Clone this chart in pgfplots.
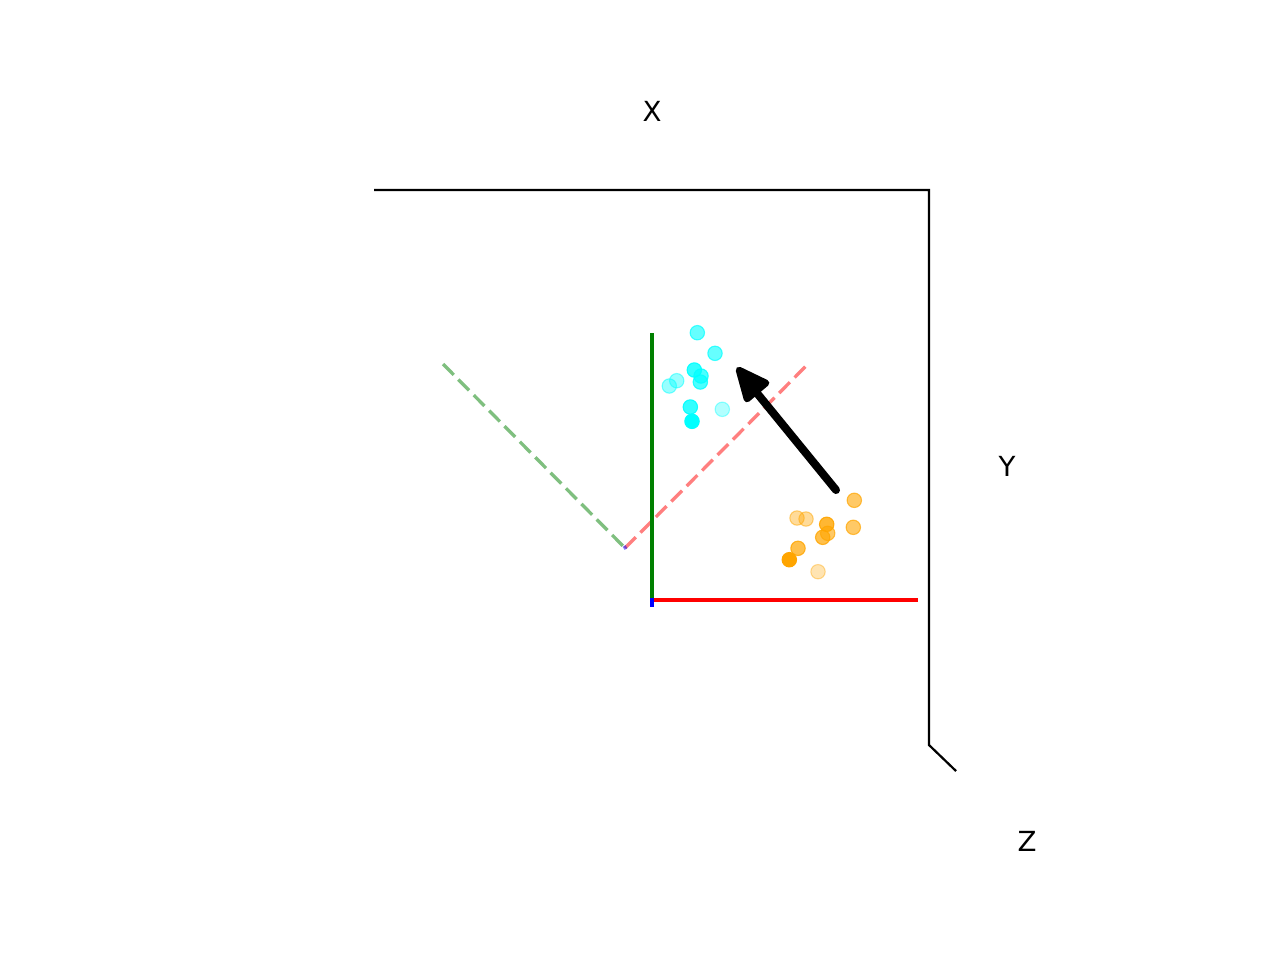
\documentclass[border=0pt]{standalone}
\usepackage{pgfplots}
\pgfplotsset{compat=1.18}
\usepackage{fontspec}
\setmainfont{DejaVu Sans}
\definecolor{mcyan}{RGB}{0,255,255}
\definecolor{morange}{RGB}{255,165,0}
\definecolor{mgreen}{RGB}{0,128,0}
\definecolor{mred}{RGB}{255,0,0}
\definecolor{mblue}{RGB}{0,0,255}
\begin{document}
\begin{tikzpicture}
\begin{axis}[
  at={(0,0)}, anchor=south west,
  scale only axis, width=6.4in, height=4.8in,
  xmin=0, xmax=1280, ymin=0, ymax=960, y dir=reverse,
  hide axis, clip=false,
]
% frame lines
\addplot[black, line width=0.8pt, line join=miter] coordinates {(374,190) (929,190) (929,745) (956,771)};
% dashed projected axes
\addplot[mgreen, opacity=0.5, line width=1.2pt, dash pattern=on 5.5pt off 2.4pt] coordinates {(443,364) (625,548)};
\addplot[mred, opacity=0.5, line width=1.2pt, dash pattern=on 5.5pt off 2.4pt] coordinates {(625,548) (808,364)};
\addplot[mblue, opacity=0.5, line width=1.2pt] coordinates {(624,546) (626,549)};
% solid axes
\addplot[mgreen, line width=1.2pt] coordinates {(652,333) (652,600)};
\addplot[mred, line width=1.2pt] coordinates {(652,600) (918,600)};
\addplot[mblue, line width=1.2pt] coordinates {(652,598) (652,607)};
% arrow
\addplot[black, line width=2.9pt, line cap=round] coordinates {(836,490) (752,387)};
\addplot[black, fill=black, line width=2.4pt, line join=round] coordinates {(739,370) (766,383) (747,399)} -- cycle;
% points
\pgfplotsset{pt/.style={only marks, mark=*, mark size=2.6pt, mark options={line width=0.8pt}}}
\addplot[pt, mcyan, mark options={fill opacity=0.3, draw opacity=0.4}] coordinates {(722.3,409.3)};
\addplot[pt, mcyan, mark options={fill opacity=0.4, draw opacity=0.5}] coordinates {(676.7,380.7) (669.3,386)};
\addplot[pt, mcyan, mark options={fill opacity=0.6, draw opacity=0.7}] coordinates {(697.3,332.7) (715,353.3)};
\addplot[pt, mcyan, mark options={fill opacity=0.7, draw opacity=0.8}] coordinates {(701,376) (700.3,382)};
\addplot[pt, mcyan, mark options={fill opacity=0.8, draw opacity=0.9}] coordinates {(694.3,370) (690.3,407)};
\addplot[pt, mcyan, mark options={fill opacity=1, draw opacity=1}] coordinates {(692,421.3)};
\addplot[pt, morange, mark options={fill opacity=0.3, draw opacity=0.4}] coordinates {(818,571.7)};
\addplot[pt, morange, mark options={fill opacity=0.4, draw opacity=0.5}] coordinates {(797,518) (806,519)};
\addplot[pt, morange, mark options={fill opacity=0.6, draw opacity=0.7}] coordinates {(854.3,500.3) (853.3,527.3) (827.7,533.3)};
\addplot[pt, morange, mark options={fill opacity=0.7, draw opacity=0.8}] coordinates {(822.7,537.3) (798,548.3)};
\addplot[pt, morange, mark options={fill opacity=0.8, draw opacity=0.9}] coordinates {(826.7,524.3)};
\addplot[pt, morange, mark options={fill opacity=1, draw opacity=1}] coordinates {(789.3,559.7)};
% labels
\node[font=\fontsize{10pt}{12pt}\selectfont] at (axis cs:652,111) {X};
\node[font=\fontsize{10pt}{12pt}\selectfont] at (axis cs:1007,466) {Y};
\node[font=\fontsize{10pt}{12pt}\selectfont] at (axis cs:1027,841) {Z};
\end{axis}
\pgfresetboundingbox
\useasboundingbox (0,0) rectangle (6.4in,4.8in);
\end{tikzpicture}
\end{document}
